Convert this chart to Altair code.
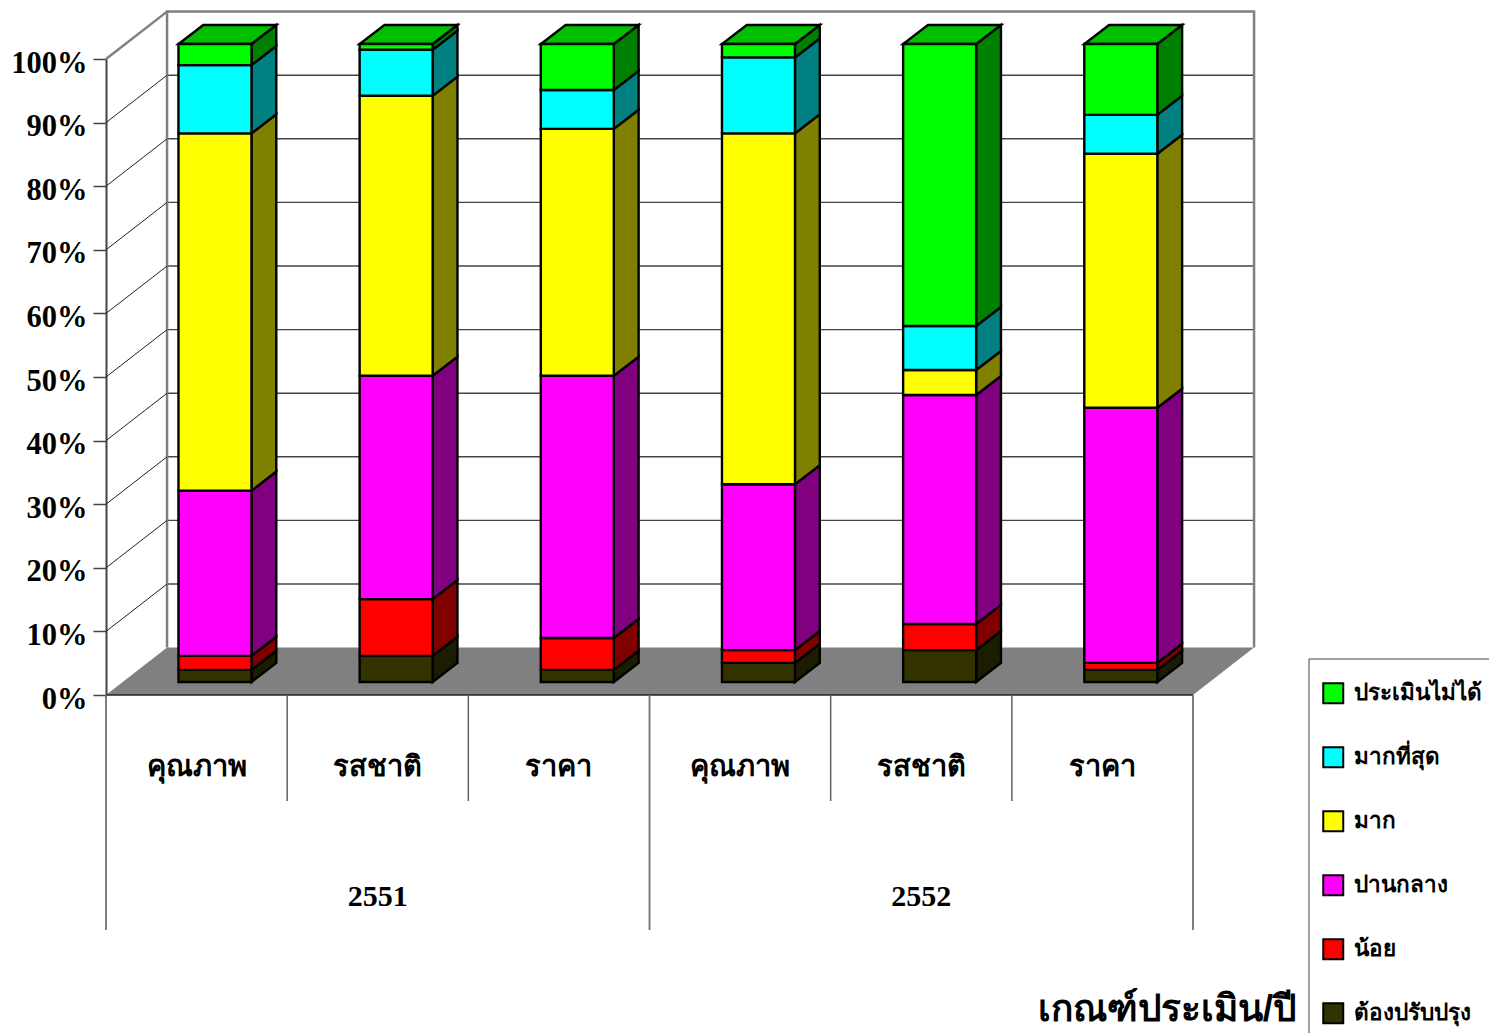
import altair as alt
import pandas as pd

# Satisfaction survey, percent of answers per criterion and year
years = ["2551", "2552"]
criteria = ["คุณภาพ", "รสชาติ", "ราคา", "คุณภาพ", "รสชาติ", "ราคา"]
levels = ["ต้องปรับปรุง", "น้อย", "ปานกลาง", "มาก", "มากที่สุด", "ประเมินไม่ได้"]
need_work = [1.9, 4.1, 1.9, 3.0, 5.0, 1.9]
low = [2.2, 8.9, 5.0, 2.0, 4.1, 1.1]
medium = [25.9, 35.0, 41.1, 26.0, 35.9, 40.0]
high = [56.0, 43.9, 38.7, 55.0, 3.9, 39.8]
highest = [10.7, 7.2, 6.1, 11.9, 6.9, 6.1]
unrated = [3.3, 0.9, 7.2, 2.1, 44.2, 11.1]
series_values = [need_work, low, medium, high, highest, unrated]

front_colors = ["#333300", "#ff0000", "#ff00ff", "#ffff00", "#00ffff", "#00ff00"]
side_colors = ["#1c1c00", "#800000", "#800080", "#808000", "#008080", "#008000"]
top_color = "#00c000"
percent_ticks = list(range(0, 101, 10))

# Oblique projection, in data units (categories across, percent up)
WALL_DX, WALL_DY = 0.337, 7.45
BAR_LEFT, BAR_WIDTH = 0.40, 0.403
BAR_DX, BAR_DY = 0.137, 3.0
BAR_BASE, BAR_STRETCH = 2.04, 638 / 636

fronts, sides = [], []
for i in range(len(criteria)):
    total = 0
    for level, values in zip(levels, series_values):
        low_y = BAR_BASE + total * BAR_STRETCH
        total += values[i]
        high_y = BAR_BASE + total * BAR_STRETCH
        left = i + BAR_LEFT
        right = left + BAR_WIDTH
        fronts.append(dict(level=level, x=left, x2=right, y=low_y, y2=high_y, value=values[i]))
        for t in (0, 1):
            sides.append(dict(level=level, seg=f"{i}-{level}", x=right + t * BAR_DX,
                              y=low_y + t * BAR_DY, y2=high_y + t * BAR_DY))
fronts = pd.DataFrame(fronts)
sides = pd.DataFrame(sides)

tops = []
for i in range(len(criteria)):
    left = i + BAR_LEFT
    top_y = BAR_BASE + 100 * BAR_STRETCH
    for t in (0, 1):
        tops.append(dict(seg=i, x=left + t * BAR_DX, x2=left + BAR_WIDTH + t * BAR_DX,
                         y=top_y + t * BAR_DY))
tops = pd.DataFrame(tops)

n = len(criteria)
GRAY = "#808080"
LINE = "#444444"
x_scale = alt.Scale(domain=[0, n], nice=False, zero=False)
y_scale = alt.Scale(domain=[0, 100], nice=False, zero=False)
y_axis = alt.Axis(
    values=percent_ticks, labelExpr="datum.value + '%'", title=None, grid=False,
    tickSize=13, tickColor=LINE, tickWidth=1.5, domainColor=LINE, domainWidth=2,
    labelFont="Liberation Serif", labelFontWeight="bold", labelFontSize=30.5,
    labelColor="black", labelPadding=6, labelOffset=4)
X = alt.X("x:Q", scale=x_scale, axis=None)
Y = alt.Y("y:Q", scale=y_scale, axis=y_axis)

floor = pd.DataFrame([dict(x=0, x2=n, y=0), dict(x=WALL_DX, x2=n + WALL_DX, y=WALL_DY)])
floor_layer = alt.Chart(floor).mark_area(orient="horizontal", color=GRAY).encode(
    x=X, x2="x2:Q", y=Y)

# Back wall gridlines, left wall diagonals
grid = pd.DataFrame([dict(x=WALL_DX, x2=n + WALL_DX, y=p + WALL_DY) for p in percent_ticks[1:-1]])
grid_layer = alt.Chart(grid).mark_rule(color=LINE, strokeWidth=1.4).encode(x=X, x2="x2:Q", y=Y)

diag = pd.DataFrame([dict(p=p, x=t * WALL_DX, y=p + t * WALL_DY)
                     for p in percent_ticks[1:] for t in (0, 1)])
diag_layer = alt.Chart(diag[diag.p < 100]).mark_line(color="#222222", strokeWidth=1).encode(
    x=X, y=Y, detail="p:N")
diag_top = alt.Chart(diag[diag.p == 100]).mark_line(color=GRAY, strokeWidth=2.5).encode(x=X, y=Y)

wall = pd.DataFrame([dict(x=WALL_DX, y=WALL_DY), dict(x=WALL_DX, y=100 + WALL_DY),
                     dict(x=n + WALL_DX, y=100 + WALL_DY), dict(x=n + WALL_DX, y=WALL_DY)])
wall_layer = alt.Chart(wall.assign(o=range(4))).mark_line(color=GRAY, strokeWidth=2.5).encode(
    x=X, y=Y, order="o:O")

baseline = alt.Chart(pd.DataFrame({"x": [0], "x2": [n], "y": [0]})).mark_rule(
    color="#222222", strokeWidth=1.5).encode(x=X, x2="x2:Q", y=Y)

# Group dividers under the plot
short_div = alt.Chart(pd.DataFrame({"x": [1, 2, 4, 5]})).mark_rule(color="#606060", strokeWidth=1.5).encode(
    x=X, y=alt.value(636), y2=alt.value(742))
long_div = alt.Chart(pd.DataFrame({"x": [0, 3, 6]})).mark_rule(color="#707070", strokeWidth=1.8).encode(
    x=X, y=alt.value(636), y2=alt.value(871))

side_layer = alt.Chart(sides).mark_area(stroke="black", strokeWidth=2.4).encode(
    x=X, y=Y, y2="y2:Q", detail="seg:N",
    color=alt.Color("level:N", scale=alt.Scale(domain=levels, range=side_colors), legend=None))

top_layer = alt.Chart(tops).mark_area(orient="horizontal", color=top_color, stroke="black", strokeWidth=2.4).encode(
    x=X, x2="x2:Q", y=Y, detail="seg:N")

front_layer = alt.Chart(fronts).mark_rect(stroke="black", strokeWidth=2.4).encode(
    x=X, x2="x2:Q", y=Y, y2="y2:Q",
    color=alt.Color("level:N",
                    scale=alt.Scale(domain=levels[::-1], range=front_colors[::-1]),
                    sort=levels[::-1],
                    legend=alt.Legend(
                        orient="none", legendX=1216, legendY=623, title=None,
                        symbolType="square", symbolSize=400, symbolStrokeWidth=2,
                        symbolStrokeColor="black", rowPadding=35, labelOffset=9,
                        labelFont="Liberation Serif", labelFontWeight="bold",
                        labelFontSize=22.5, labelColor="black", labelLimit=300)))

# Category and year labels
criteria_df = pd.DataFrame({"x": [i + 0.5 for i in range(n)], "label": criteria})
criteria_text = alt.Chart(criteria_df).mark_text(
    font="Liberation Serif", fontWeight="bold", fontSize=29, color="black").encode(
    x=X, y=alt.value(708), text="label:N")
years_df = pd.DataFrame({"x": [1.5, 4.5], "label": years})
years_text = alt.Chart(years_df).mark_text(
    font="Liberation Serif", fontWeight="bold", fontSize=30, color="black").encode(
    x=X, y=alt.value(838), text="label:N")
title_text = alt.Chart(pd.DataFrame({"label": ["เกณฑ์ประเมิน/ปี"]})).mark_text(
    font="Liberation Sans", fontWeight="bold", fontSize=37, color="black", align="right").encode(
    x=alt.value(1190), y=alt.value(951), text="label:N")

# Frame around the legend, open past the page edge
legend_left = alt.Chart(pd.DataFrame({"a": [0]})).mark_rule(color=GRAY, strokeWidth=1.5).encode(
    x=alt.value(1203), y=alt.value(600), y2=alt.value(980))
legend_top = alt.Chart(pd.DataFrame({"a": [0]})).mark_rule(color=GRAY, strokeWidth=1.5).encode(
    x=alt.value(1203), x2=alt.value(1400), y=alt.value(600))

chart = alt.layer(
    grid_layer, wall_layer, diag_layer, diag_top, floor_layer, baseline,
    short_div, long_div, side_layer, top_layer, front_layer,
    criteria_text, years_text, title_text, legend_left, legend_top,
).resolve_scale(color="independent").properties(
    width=1087, height=636, autosize="none", background="white",
    padding={"left": 106, "top": 59, "right": 296, "bottom": 338},
).configure_view(stroke=None)

chart.save("out.html", embed_options={"renderer": "svg", "actions": False})
